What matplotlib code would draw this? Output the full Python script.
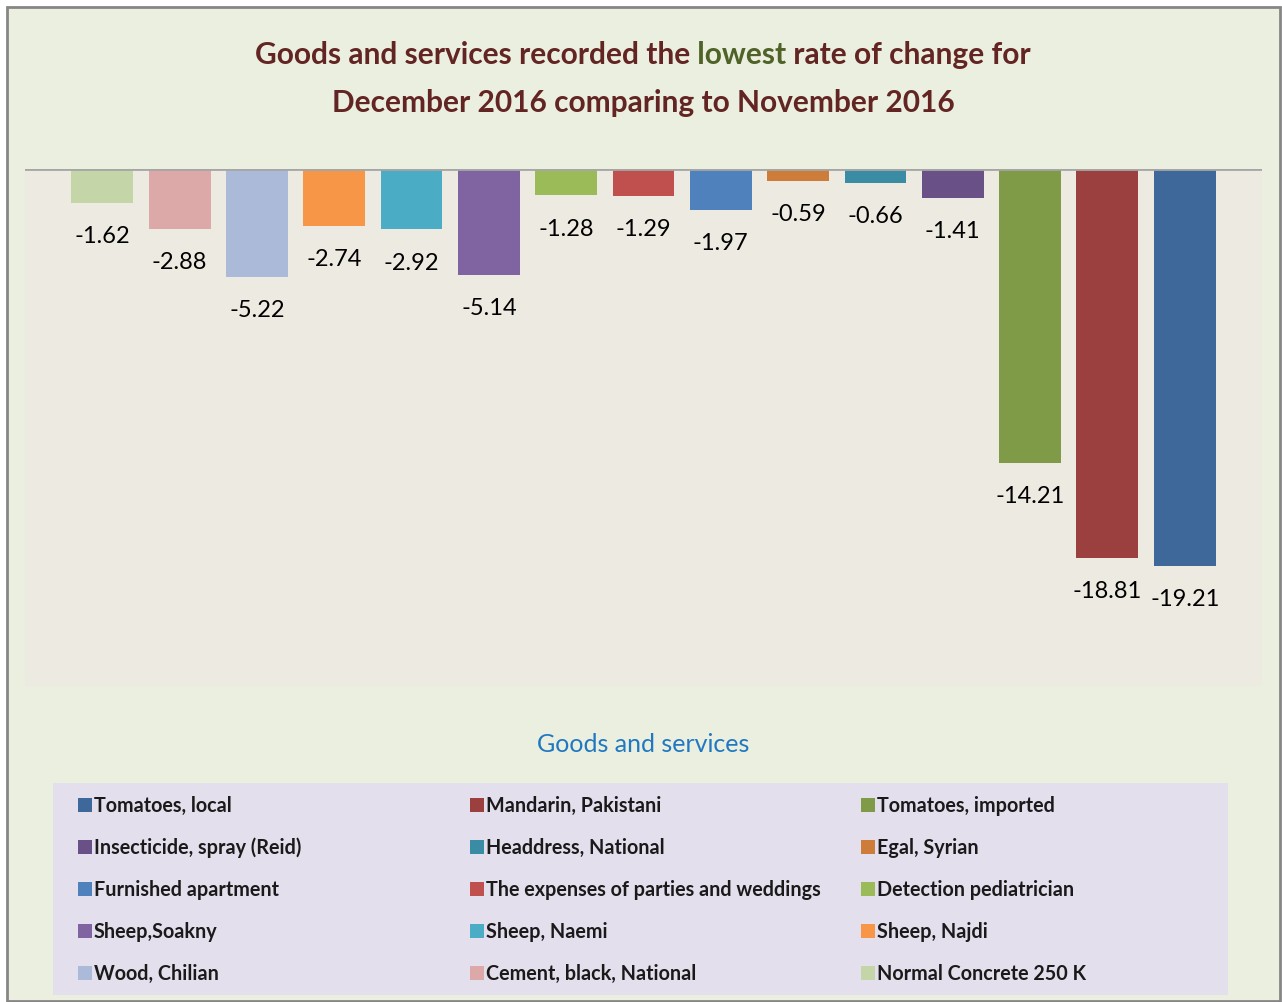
import matplotlib.pyplot as plt
from matplotlib.patches import Rectangle

# bars, left to right
items = ['Normal Concrete 250 K', 'Cement, black, National', 'Wood, Chilian',
         'Sheep, Najdi', 'Sheep, Naemi', 'Sheep,Soakny',
         'Detection pediatrician', 'The expenses of parties and weddings',
         'Furnished apartment', 'Egal, Syrian', 'Headdress, National',
         'Insecticide, spray (Reid)', 'Tomatoes, imported',
         'Mandarin, Pakistani', 'Tomatoes, local']
changes = [-1.62, -2.88, -5.22, -2.74, -2.92, -5.14, -1.28, -1.29, -1.97,
           -0.59, -0.66, -1.41, -14.21, -18.81, -19.21]
bar_colors = ['#C4D6A8', '#DCA9A8', '#ABBAD8', '#F79646', '#4BACC6',
              '#8064A2', '#9BBB59', '#C0504D', '#4F81BD', '#CE7C39',
              '#3A8CA4', '#695086', '#7F9B48', '#9B403E', '#3F689A']

title_parts = ['Goods and services recorded the', ' lowest', ' rate of change for']
title_line2 = 'December 2016 comparing to November 2016'
legend_title = 'Goods and services'

plt.rcParams['font.family'] = ['Lato', 'DejaVu Sans']

W, H = 1282, 1003
fig = plt.figure(figsize=(W / 100, H / 100), dpi=100)
fig.patch.set_facecolor('white')

# chart area background with border
fig.patches.append(Rectangle((7 / W, 1 - 1002 / H), 1273 / W, 994 / H,
                             transform=fig.transFigure, facecolor='#EBEFDF',
                             edgecolor='#868686', lw=2, zorder=-5))

ax = fig.add_axes([25 / W, 1 - 687 / H, 1237 / W, 517 / H])
ax.set_facecolor('#EDEBE1')
x = list(range(len(changes)))
bars = ax.bar(x, changes, width=0.8, color=bar_colors, zorder=2)
ax.axhline(0, color='#A6A6A6', lw=2, zorder=3)
ax.set_xlim(-1, 15)
ax.set_ylim(-25, 0)
ax.set_xticks([])
ax.set_yticks([])
for s in ax.spines.values():
    s.set_visible(False)
for b, v in zip(bars, changes):
    ax.annotate(f'{v:.2f}', (b.get_x() + b.get_width() / 2, v),
                xytext=(0, -23.5), textcoords='offset points',
                ha='center', va='center', fontsize=17, color='#000000')

# title with coloured word
title_color = '#632523'
t_colors = [title_color, '#4F6228', title_color]
tlist = []
for s, c in zip(title_parts, t_colors):
    tlist.append(fig.text(0, 1 - 64 / H, s, fontsize=21.5, fontweight='bold',
                          color=c, ha='left', va='baseline'))
fig.canvas.draw()
r = fig.canvas.get_renderer()
widths = [t.get_window_extent(r).width for t in tlist]
xpos = 643 - sum(widths) / 2
for t, w in zip(tlist, widths):
    t.set_position((xpos / W, 1 - 64 / H))
    xpos += w
fig.text(643 / W, 1 - 112 / H, title_line2, fontsize=21.5, fontweight='bold',
         color=title_color, ha='center', va='baseline')

fig.text(643 / W, 1 - 745 / H, legend_title, fontsize=18, color='#1F78C1',
         ha='center', va='center')

# legend box
lax = fig.add_axes([53 / W, 1 - 996 / H, 1175 / W, 212 / H])
lax.set_facecolor('#E4DFEC')
lax.set_xlim(0, 3)
lax.set_ylim(212 / 42, 0)
lax.set_xticks([])
lax.set_yticks([])
for s in lax.spines.values():
    s.set_visible(False)
leg_names = items[::-1]
leg_colors = bar_colors[::-1]
for i, (n, c) in enumerate(zip(leg_names, leg_colors)):
    col, row = i % 3, i // 3
    yy = row + 22 / 42
    lax.scatter(col + 32 / 392, yy, marker='s', s=88, color=c, lw=0)
    lax.text(col + 41 / 392, yy, n, fontsize=14.2, fontweight='bold',
             color='#1A1A1A', ha='left', va='center')

fig.savefig('out.png', dpi=100)
